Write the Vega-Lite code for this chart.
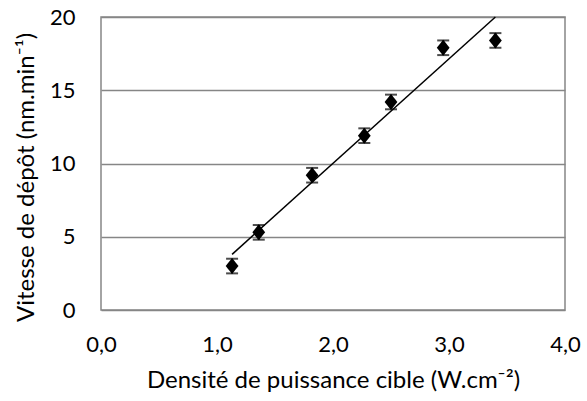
{
  "$schema": "https://vega.github.io/schema/vega-lite/v6.json",
  "width": 464,
  "height": 293,
  "autosize": "none",
  "padding": {"left": 101, "top": 17, "right": 22, "bottom": 91},
  "background": "white",
  "config": {
    "view": {"stroke": "#868686", "strokeWidth": 1.5},
    "font": "Lato"
  },
  "datasets": {
    "pts": [
      {"p": 1.13, "v": 3.0, "lo": 2.5, "hi": 3.5},
      {"p": 1.36, "v": 5.3, "lo": 4.8, "hi": 5.8},
      {"p": 1.82, "v": 9.2, "lo": 8.7, "hi": 9.7},
      {"p": 2.27, "v": 11.9, "lo": 11.4, "hi": 12.4},
      {"p": 2.50, "v": 14.2, "lo": 13.7, "hi": 14.7},
      {"p": 2.95, "v": 17.9, "lo": 17.4, "hi": 18.4},
      {"p": 3.40, "v": 18.4, "lo": 17.9, "hi": 18.9}
    ],
    "fit": [
      {"p": 1.13, "v": 3.8},
      {"p": 3.40, "v": 20.0}
    ]
  },
  "layer": [
    {
      "data": {"name": "fit"},
      "mark": {"type": "line", "color": "black", "strokeWidth": 1.5},
      "encoding": {
        "x": {
          "field": "p", "type": "quantitative",
          "title": "Densité de puissance cible (W.cm⁻²)",
          "scale": {"domain": [0, 4]},
          "axis": {
            "values": [0, 1, 2, 3, 4],
            "grid": false, "domain": false, "ticks": false,
            "labelExpr": "replace(format(datum.value, '.1f'), '.', ',')",
            "labelFontSize": 22, "labelColor": "black", "labelPadding": 24,
            "labelFlush": false,
            "titleFontSize": 24, "titleFontWeight": "normal", "titleColor": "black",
            "titlePadding": 13
          }
        },
        "y": {
          "field": "v", "type": "quantitative",
          "title": "Vitesse de dépôt (nm.min⁻¹)",
          "scale": {"domain": [0, 20]},
          "axis": {
            "values": [0, 5, 10, 15, 20],
            "grid": true, "gridColor": "#868686", "gridWidth": 1.5, "gridOpacity": 1,
            "domain": false, "ticks": false,
            "labelFontSize": 22, "labelColor": "black", "labelPadding": 26,
            "titleFontSize": 24, "titleFontWeight": "normal", "titleColor": "black",
            "titleX": -75, "titleY": 160, "titleBaseline": "middle"
          }
        }
      }
    },
    {
      "data": {"name": "pts"},
      "mark": {"type": "errorbar", "color": "black", "thickness": 2, "ticks": {"size": 12, "thickness": 2, "color": "black"}},
      "encoding": {
        "x": {"field": "p", "type": "quantitative", "title": "Densité de puissance cible (W.cm⁻²)"},
        "y": {"field": "lo", "type": "quantitative", "title": "Vitesse de dépôt (nm.min⁻¹)"},
        "y2": {"field": "hi"}
      }
    },
    {
      "data": {"name": "pts"},
      "mark": {"type": "point", "shape": "M-0.8,0L0,-1L0.8,0L0,1Z", "filled": true, "color": "black", "size": 256, "opacity": 1},
      "encoding": {
        "x": {"field": "p", "type": "quantitative", "title": "Densité de puissance cible (W.cm⁻²)"},
        "y": {"field": "v", "type": "quantitative", "title": "Vitesse de dépôt (nm.min⁻¹)"}
      }
    }
  ]
}
